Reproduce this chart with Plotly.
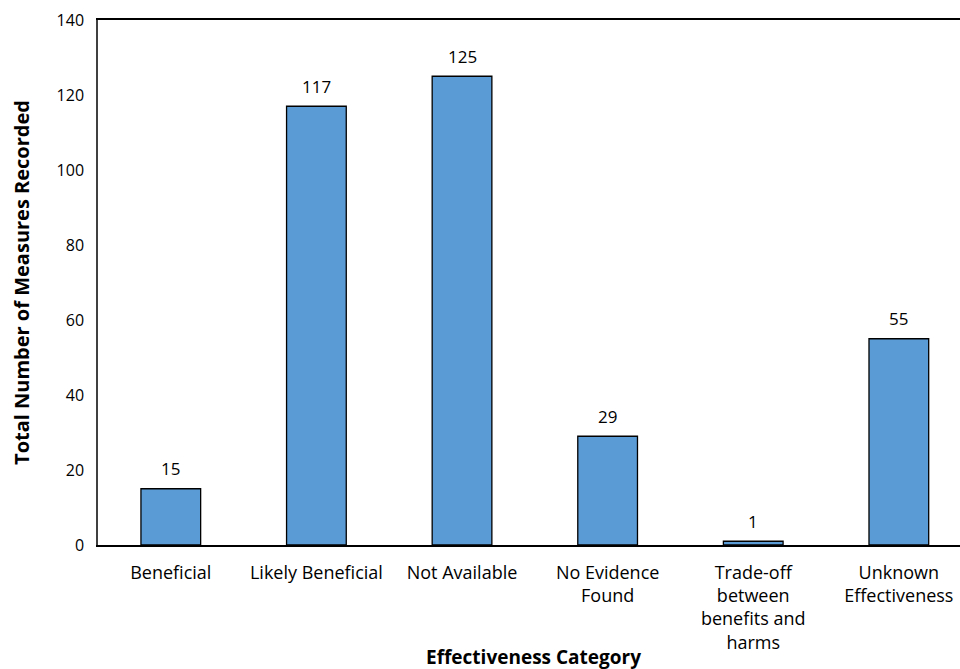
import plotly.graph_objects as go

categories = ["Beneficial", "Likely Beneficial", "Not Available", "No Evidence<br>Found",
              "Trade-off<br>between<br>benefits and<br>harms", "Unknown<br>Effectiveness"]
values = [15, 117, 125, 29, 1, 55]
y_ticks = [0, 20, 40, 60, 80, 100, 120, 140]

FONT = "Open Sans"
idx = list(range(len(categories)))

fig = go.Figure(go.Bar(
    x=idx, y=values, width=0.41,
    marker=dict(color="#5b9bd5", line=dict(color="#000000", width=1.3)),
    hoverinfo="skip",
))

label_annotations = [
    dict(x=i, y=v, xref="x", yref="y", text=str(v), showarrow=False,
         yanchor="middle", xanchor="center", yshift=20,
         font=dict(family=FONT, size=17, color="#000000"))
    for i, v in zip(idx, values)
]

fig.update_layout(
    width=960, height=669,
    margin=dict(l=98, r=0, t=20, b=124, autoexpand=False),
    paper_bgcolor="white", plot_bgcolor="white",
    showlegend=False,
    font=dict(family=FONT, color="#000000"),
    xaxis=dict(
        tickmode="array", tickvals=idx, ticktext=categories,
        range=[-0.5, 5.42], automargin=False,
        showline=True, linecolor="#000000", linewidth=2, mirror=True,
        ticks="", showgrid=False, zeroline=False, ticklabelstandoff=10,
        tickfont=dict(family=FONT, size=18, color="#000000"),
    ),
    yaxis=dict(
        range=[0, 140], tickvals=y_ticks, automargin=False,
        showline=True, linecolor="#404040", linewidth=1.5,
        ticks="", showgrid=False, zeroline=False, ticklabelstandoff=9,
        tickfont=dict(family=FONT, size=16, color="#000000"),
        title=dict(text="<b>Total Number of Measures Recorded</b>",
                   font=dict(family=FONT, size=20, color="#000000"), standoff=22),
    ),
    annotations=label_annotations + [dict(
        text="<b>Effectiveness Category</b>", xref="paper", yref="paper",
        x=0.505, y=-0.213, xanchor="center", yanchor="middle", showarrow=False,
        font=dict(family=FONT, size=19, color="#000000"),
    )],
)

fig.write_html("out.html", config={"displayModeBar": False},
               post_script="document.body.style.margin='0';")
